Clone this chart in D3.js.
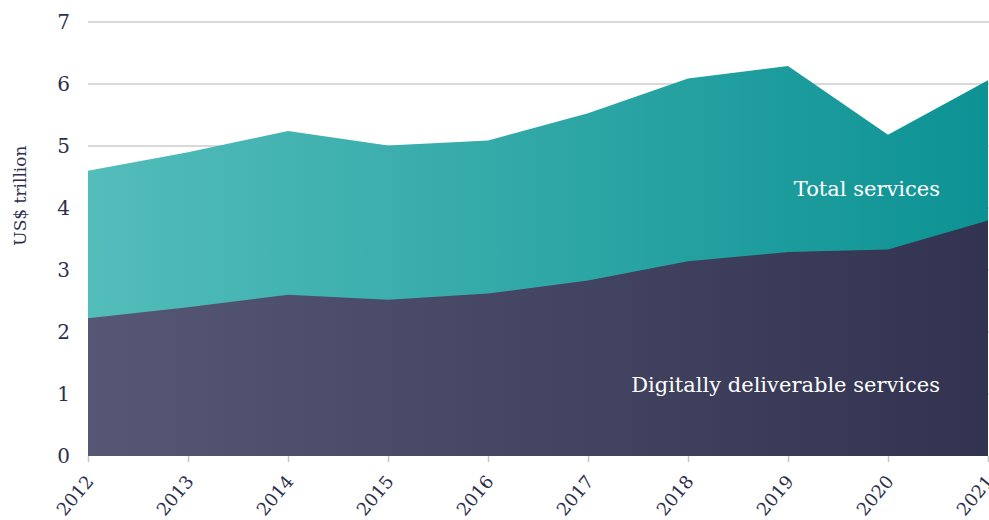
<!DOCTYPE html>
<html>
<head>
<meta charset="utf-8">
<script src="https://cdn.jsdelivr.net/npm/d3@7"></script>
<style>
  body { margin: 0; background: #fff; }
  svg { display: block; font-family: "DejaVu Serif", serif; }
</style>
</head>
<body>
<script>
"use strict";

// Data
const years = [2012, 2013, 2014, 2015, 2016, 2017, 2018, 2019, 2020, 2021];
const totalServices = [4.6, 4.9, 5.24, 5.01, 5.09, 5.53, 6.09, 6.29, 5.18, 6.06];
const digitalServices = [2.22, 2.4, 2.6, 2.52, 2.62, 2.83, 3.14, 3.29, 3.33, 3.8];
const yTicks = [0, 1, 2, 3, 4, 5, 6, 7];

const w = 989;
const h = 520;
const margin = { top: 22, right: 1, bottom: 64, left: 88 };
const textColor = "#2d2f4e";

const svg = d3.select("body").append("svg").attr("width", w).attr("height", h);

const x = d3.scaleLinear().domain(d3.extent(years)).range([margin.left, w - margin.right]);
const y = d3.scaleLinear().domain([0, 7]).range([h - margin.bottom, margin.top]);

//Gradients
const defs = svg.append("defs");
const addGradient = (id, from, to) => {
  const g = defs.append("linearGradient").attr("id", id)
    .attr("gradientUnits", "userSpaceOnUse")
    .attr("x1", margin.left).attr("x2", w - margin.right).attr("y1", 0).attr("y2", 0);
  g.append("stop").attr("offset", 0).attr("stop-color", from);
  g.append("stop").attr("offset", 1).attr("stop-color", to);
};
addGradient("teal", "#53bdba", "#0d9294");
addGradient("navy", "#555774", "#313350");

//Grid lines
svg.append("g")
  .selectAll("line")
  .data(yTicks.filter((d) => d > 0))
  .join("line")
  .attr("x1", margin.left)
  .attr("x2", w)
  .attr("y1", (d) => y(d))
  .attr("y2", (d) => y(d))
  .attr("stroke", "#cccccc")
  .attr("stroke-width", 1.5);

const rows = years.map((yr, i) => ({ year: yr, total: totalServices[i], digital: digitalServices[i] }));

const areaTotal = d3.area().x((d) => x(d.year)).y0(y(0)).y1((d) => y(d.total));
const areaDigital = d3.area().x((d) => x(d.year)).y0(y(0)).y1((d) => y(d.digital));

svg.append("path").datum(rows).attr("d", areaTotal).attr("fill", "url(#teal)");
svg.append("path").datum(rows).attr("d", areaDigital).attr("fill", "url(#navy)");

//Y axis
const yAxis = d3.axisLeft(y).tickValues(yTicks).tickFormat(d3.format("d")).tickSize(0).tickPadding(18);
svg.append("g")
  .attr("transform", `translate(${margin.left},0)`)
  .call(yAxis)
  .call((g) => g.select(".domain").remove())
  .call((g) => g.selectAll("text")
    .attr("font-family", "DejaVu Serif, serif")
    .attr("font-size", 20)
    .attr("fill", textColor));

//X axis
const xAxis = d3.axisBottom(x).tickValues(years).tickFormat(d3.format("d")).tickSize(6).tickSizeOuter(0);
svg.append("g")
  .attr("transform", `translate(0,${y(0)})`)
  .call(xAxis)
  .call((g) => g.select(".domain").remove())
  .call((g) => g.selectAll(".tick line").attr("stroke", "#c4c4c8").attr("stroke-width", 1.5))
  .call((g) => g.selectAll("text")
    .attr("font-family", "DejaVu Serif, serif")
    .attr("font-size", 18)
    .attr("fill", textColor)
    .attr("text-anchor", "end")
    .attr("y", 0)
    .attr("dy", 0)
    .attr("transform", "translate(6,26) rotate(-50)"));

//Axis title
svg.append("text")
  .attr("transform", `translate(26,${y(4.2)}) rotate(-90)`)
  .attr("text-anchor", "middle")
  .attr("font-size", 17)
  .attr("fill", textColor)
  .text("US$ trillion");

//Series labels
svg.append("text")
  .attr("x", 940).attr("y", y(4.2))
  .attr("text-anchor", "end")
  .attr("font-size", 21)
  .attr("fill", "#ffffff")
  .text("Total services");

svg.append("text")
  .attr("x", 940).attr("y", y(1.04))
  .attr("text-anchor", "end")
  .attr("font-size", 21)
  .attr("fill", "#ffffff")
  .text("Digitally deliverable services");
</script>
</body>
</html>
